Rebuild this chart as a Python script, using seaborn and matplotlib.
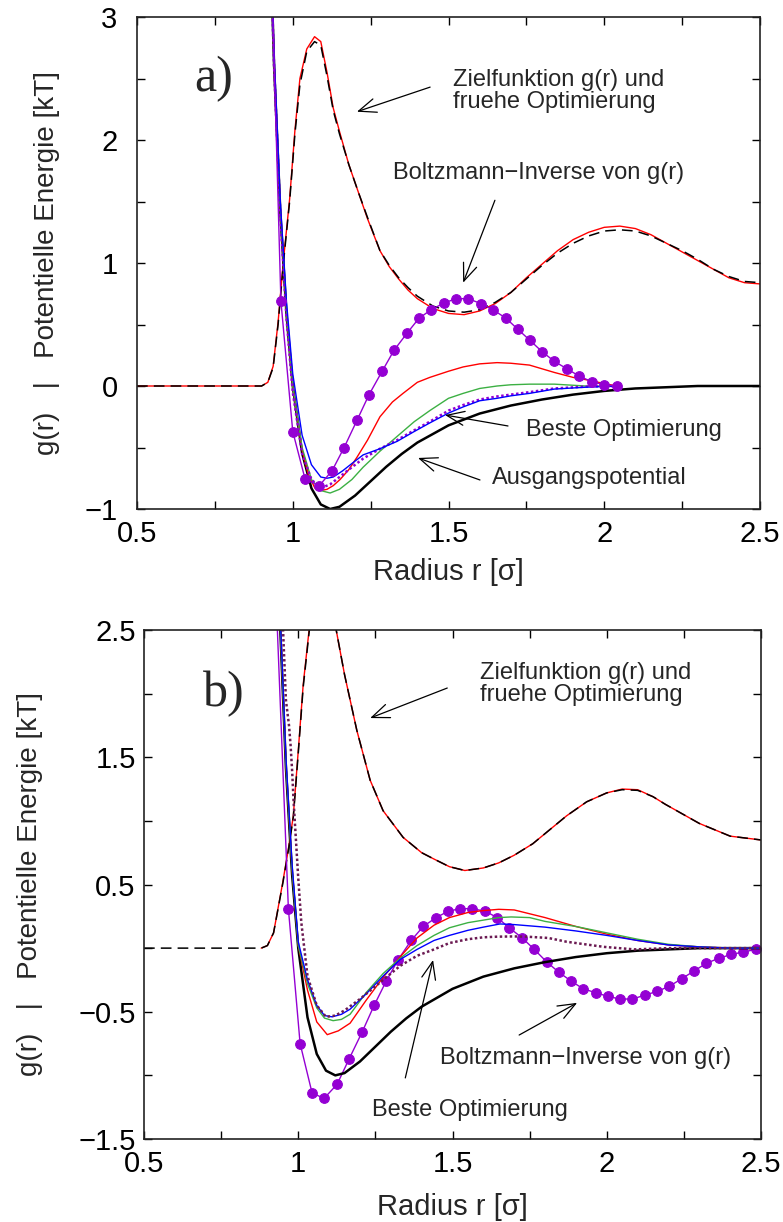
import numpy as np
import seaborn as sns
import matplotlib.pyplot as plt

# ---------------- data ----------------
# panel a: target g(r) (black dashed) and early optimisation g(r) (red)
r_g_a = [0.5, 0.9, 0.92, 0.937, 0.953, 0.97, 0.99, 1.007, 1.023, 1.045, 1.07, 1.09, 1.11, 1.13,
         1.15, 1.18, 1.21, 1.24, 1.28, 1.31, 1.34, 1.37, 1.4, 1.45, 1.5, 1.55, 1.6, 1.65, 1.7,
         1.75, 1.8, 1.85, 1.9, 1.95, 2.0, 2.05, 2.1, 2.15, 2.2, 2.25, 2.3, 2.35, 2.4, 2.45, 2.5]
g_target_a = [0, 0, 0.03, 0.15, 0.5, 1.0, 1.5, 2.05, 2.45, 2.72, 2.8, 2.77, 2.52, 2.24,
              2.05, 1.8, 1.58, 1.37, 1.1, 0.98, 0.88, 0.8, 0.73, 0.65, 0.61, 0.6, 0.62, 0.68, 0.76,
              0.87, 0.98, 1.08, 1.16, 1.22, 1.26, 1.27, 1.26, 1.22, 1.16, 1.1, 1.03, 0.95, 0.89, 0.85, 0.84]
g_early_a = [0, 0, 0.03, 0.16, 0.52, 1.02, 1.52, 2.08, 2.5, 2.74, 2.84, 2.8, 2.55, 2.26,
             2.07, 1.8, 1.58, 1.36, 1.1, 0.97, 0.87, 0.78, 0.71, 0.63, 0.59, 0.58, 0.61, 0.67, 0.76,
             0.88, 0.99, 1.1, 1.19, 1.25, 1.29, 1.3, 1.28, 1.23, 1.16, 1.09, 1.02, 0.95, 0.88, 0.84, 0.83]

# starting potential (Lennard-Jones like), same in both panels
r_lj = [0.92, 0.94, 0.96, 0.98, 1.0, 1.03, 1.06, 1.09, 1.12, 1.15, 1.2, 1.25, 1.3, 1.35, 1.4,
        1.5, 1.6, 1.7, 1.8, 1.9, 2.0, 2.1, 2.2, 2.3, 2.4, 2.5]
v_lj = [4.3, 2.61, 1.42, 0.58, 0.0, -0.544, -0.832, -0.963, -1.0, -0.982, -0.891, -0.774, -0.657,
        -0.552, -0.46, -0.32, -0.224, -0.159, -0.11, -0.07, -0.04, -0.02, -0.01, 0.0, 0.0, 0.0]

# panel a: optimisation iterations
r_red_a = [0.92, 0.94, 0.96, 0.98, 1.0, 1.03, 1.05, 1.071, 1.09, 1.11, 1.13, 1.152, 1.18, 1.206,
           1.24, 1.28, 1.32, 1.354, 1.4, 1.44, 1.5, 1.547, 1.6, 1.656, 1.7, 1.76, 1.8, 1.84, 1.9,
           1.944, 2.0, 2.04]
v_red_a = [4.3, 2.65, 1.45, 0.6, 0.0, -0.52, -0.72, -0.83, -0.85, -0.84, -0.81, -0.76, -0.68, -0.58,
           -0.44, -0.25, -0.13, -0.06, 0.03, 0.07, 0.12, 0.155, 0.18, 0.19, 0.185, 0.17, 0.14, 0.11,
           0.07, 0.05, 0.02, 0.0]
r_green_a = [0.92, 0.94, 0.96, 0.98, 1.0, 1.03, 1.06, 1.09, 1.12, 1.15, 1.19, 1.226, 1.28, 1.335,
             1.39, 1.44, 1.5, 1.547, 1.6, 1.656, 1.7, 1.76, 1.84, 1.94, 2.04]
v_green_a = [4.3, 2.62, 1.44, 0.6, 0.0, -0.5, -0.76, -0.85, -0.87, -0.84, -0.76, -0.66, -0.53, -0.41,
             -0.29, -0.2, -0.1, -0.06, -0.02, 0.0, 0.01, 0.015, 0.015, 0.0, 0.0]
r_blue_a = [0.92, 0.94, 0.96, 0.98, 1.0, 1.03, 1.06, 1.09, 1.11, 1.13, 1.16, 1.19, 1.226, 1.28,
            1.335, 1.39, 1.44, 1.5, 1.547, 1.6, 1.656, 1.7, 1.76, 1.84, 1.94, 2.04]
v_blue_a = [4.4, 2.7, 1.5, 0.68, 0.1, -0.4, -0.64, -0.74, -0.75, -0.74, -0.69, -0.63, -0.56, -0.51,
            -0.45, -0.37, -0.3, -0.22, -0.17, -0.12, -0.1, -0.08, -0.06, -0.025, -0.01, 0.0]
r_dot_a = [0.92, 0.94, 0.96, 0.98, 1.0, 1.03, 1.06, 1.08, 1.1, 1.12, 1.15, 1.19, 1.226, 1.28, 1.335,
           1.39, 1.44, 1.5, 1.547, 1.6, 1.656, 1.7, 1.76, 1.84, 1.94, 2.04]
v_dot_a = [4.3, 2.6, 1.4, 0.55, -0.05, -0.55, -0.76, -0.81, -0.82, -0.8, -0.74, -0.66, -0.59, -0.51,
           -0.44, -0.36, -0.29, -0.2, -0.155, -0.11, -0.085, -0.07, -0.05, -0.02, -0.005, 0.0]

# panel a: Boltzmann inverse of g(r) (first point only starts the line)
r_boltz_a = [0.925, 0.962, 1.0, 1.04, 1.085, 1.126, 1.165, 1.206, 1.245, 1.287, 1.325, 1.367, 1.405,
             1.444, 1.486, 1.524, 1.563, 1.604, 1.643, 1.685, 1.723, 1.762, 1.80, 1.84, 1.88, 1.92,
             1.96, 2.0, 2.04]
v_boltz_a = [4.0, 0.69, -0.37, -0.76, -0.81, -0.69, -0.5, -0.28, -0.07, 0.12, 0.29, 0.43, 0.55,
             0.62, 0.675, 0.71, 0.71, 0.67, 0.62, 0.55, 0.46, 0.37, 0.28, 0.2, 0.14, 0.08, 0.035,
             0.01, 0.0]

# panel b: target g(r) and early optimisation
r_g_b = [0.5, 0.88, 0.9, 0.92, 0.95, 0.968, 0.984, 1.0, 1.016, 1.036, 1.06, 1.08, 1.1, 1.123, 1.15,
         1.19, 1.233, 1.275, 1.34, 1.4, 1.44, 1.49, 1.54, 1.6, 1.65, 1.7, 1.76, 1.81, 1.87, 1.935,
         2.0, 2.05, 2.1, 2.15, 2.19, 2.3, 2.4, 2.5]
g_target_b = [0, 0, 0.02, 0.12, 0.51, 0.77, 1.03, 1.53, 2.05, 2.5, 2.85, 2.95, 2.85, 2.5, 2.15,
              1.71, 1.32, 1.08, 0.87, 0.75, 0.7, 0.64, 0.61, 0.63, 0.67, 0.73, 0.82, 0.92, 1.04, 1.15,
              1.22, 1.245, 1.24, 1.19, 1.13, 0.98, 0.88, 0.85]
r_early_b = r_g_b[1:]
g_early_b = [0, 0.02, 0.12, 0.52, 0.78, 1.04, 1.55, 2.07, 2.52, 2.87, 2.97, 2.86, 2.5, 2.15,
             1.71, 1.32, 1.08, 0.87, 0.75, 0.7, 0.64, 0.61, 0.63, 0.67, 0.73, 0.82, 0.92, 1.04, 1.15,
             1.22, 1.25, 1.245, 1.19, 1.13, 0.98, 0.88, 0.85]

# panel b: optimisation iterations
r_red_b = [0.92, 0.94, 0.96, 0.98, 1.0, 1.03, 1.06, 1.094, 1.13, 1.168, 1.22, 1.275, 1.33, 1.385,
           1.44, 1.49, 1.55, 1.6, 1.65, 1.7, 1.8, 1.9, 2.0, 2.1, 2.2, 2.3, 2.4, 2.5]
v_red_b = [4.3, 2.65, 1.45, 0.62, 0.02, -0.33, -0.58, -0.68, -0.65, -0.59, -0.41, -0.23, -0.07,
           0.08, 0.18, 0.24, 0.28, 0.295, 0.305, 0.3, 0.24, 0.17, 0.11, 0.06, 0.025, 0.01, 0.0, 0.0]
r_green_b = [0.92, 0.94, 0.96, 0.98, 1.0, 1.03, 1.06, 1.085, 1.113, 1.14, 1.168, 1.22, 1.275, 1.33,
             1.385, 1.44, 1.49, 1.55, 1.6, 1.65, 1.69, 1.75, 1.8, 1.9, 2.0, 2.1, 2.2, 2.3, 2.4, 2.5]
v_green_b = [4.3, 2.65, 1.45, 0.62, 0.02, -0.28, -0.47, -0.55, -0.57, -0.56, -0.52, -0.35, -0.2,
             -0.08, 0.02, 0.1, 0.16, 0.2, 0.22, 0.24, 0.245, 0.24, 0.21, 0.17, 0.12, 0.07, 0.03, 0.01,
             0.0, 0.0]
r_blue_b = [0.92, 0.94, 0.96, 0.98, 1.0, 1.03, 1.06, 1.085, 1.11, 1.14, 1.168, 1.22, 1.275, 1.33,
            1.385, 1.44, 1.49, 1.55, 1.6, 1.654, 1.7, 1.8, 1.9, 2.0, 2.1, 2.2, 2.3, 2.4, 2.5]
v_blue_b = [4.4, 2.7, 1.5, 0.66, 0.05, -0.25, -0.45, -0.53, -0.54, -0.52, -0.48, -0.36, -0.22,
            -0.09, -0.01, 0.06, 0.1, 0.14, 0.165, 0.19, 0.185, 0.165, 0.135, 0.1, 0.06, 0.025, 0.01,
            0.0, 0.0]
r_dot_b = [0.944, 0.96, 0.965, 0.97, 0.975, 0.98, 0.985, 0.99, 1.0, 1.01, 1.03, 1.06, 1.09, 1.12,
           1.15, 1.2, 1.25, 1.3, 1.33, 1.385, 1.44, 1.49, 1.55, 1.6, 1.645, 1.7, 1.74, 1.81, 1.87,
           1.93, 1.99, 2.09, 2.2, 2.3, 2.4, 2.5]
v_dot_b = [2.9, 1.95, 1.85, 1.75, 1.6, 1.4, 1.15, 0.95, 0.55, 0.2, -0.22, -0.45, -0.54, -0.53,
           -0.49, -0.4, -0.3, -0.2, -0.14, -0.06, -0.01, 0.04, 0.07, 0.085, 0.09, 0.092, 0.09, 0.08,
           0.05, 0.03, 0.01, -0.01, 0.0, 0.0, 0.0, 0.0]

# panel b: Boltzmann inverse of g(r)
r_boltz_b = [0.925, 0.968, 1.006, 1.045, 1.084, 1.126, 1.165, 1.207, 1.246, 1.285, 1.324, 1.366,
             1.405, 1.447, 1.486, 1.525, 1.564, 1.606, 1.645, 1.684, 1.726, 1.765, 1.806, 1.845,
             1.885, 1.924, 1.964, 2.005, 2.043, 2.083, 2.123, 2.163, 2.203, 2.243, 2.283, 2.322,
             2.363, 2.403, 2.443, 2.484]
v_boltz_b = [2.95, 0.31, -0.75, -1.14, -1.18, -1.07, -0.87, -0.66, -0.45, -0.26, -0.09, 0.06, 0.17,
             0.24, 0.29, 0.31, 0.31, 0.29, 0.24, 0.16, 0.08, -0.01, -0.11, -0.19, -0.26, -0.32,
             -0.35, -0.38, -0.40, -0.40, -0.37, -0.34, -0.30, -0.24, -0.18, -0.12, -0.08, -0.05,
             -0.03, -0.01]

x_ticks = [0.5, 0.75, 1.0, 1.25, 1.5, 1.75, 2.0, 2.25, 2.5]
x_labels = ['0.5', '', '1', '', '1.5', '', '2', '', '2.5']
y_ticks_a = [-1, -0.5, 0, 0.5, 1, 1.5, 2, 2.5, 3]
y_labels_a = ['\u22121', '', '0', '', '1', '', '2', '', '3']
y_ticks_b = [-1.5, -1, -0.5, 0, 0.5, 1, 1.5, 2, 2.5]
y_labels_b = ['\u22121.5', '', '\u22120.5', '', '0.5', '', '1.5', '', '2.5']

# ---------------- style ----------------
sns.set_style('ticks')
plt.rcParams['font.family'] = ['Liberation Sans', 'DejaVu Sans']

RED = '#ff0000'
GREEN = '#3cb043'
BLUE = '#0000ff'
VIOLET = '#9400d3'
PLUM = '#6b1a52'

fig = plt.figure(figsize=(7.83, 12.22), dpi=100)
W, H = 783, 1222
ax_a = fig.add_axes([137 / W, 1 - 509 / H, (760 - 137) / W, (509 - 17) / H])
ax_b = fig.add_axes([144 / W, 1 - 1139 / H, (761 - 144) / W, (1139 - 630) / H])


def line(ax, x, y, **kw):
    sns.lineplot(x=x, y=y, ax=ax, sort=False, estimator=None, legend=False, **kw)


def arrow(ax, tail, head):
    ax.annotate('', xy=head, xytext=tail,
                arrowprops=dict(arrowstyle='->,head_length=0.7,head_width=0.28',
                                lw=0.9, color='black', shrinkA=0, shrinkB=0,
                                mutation_scale=18))


dash = (0, (7, 4))

# ---- panel a ----
line(ax_a, r_g_a, g_early_a, color=RED, lw=1.0)
line(ax_a, r_g_a, g_target_a, color='black', lw=1.1, linestyle=dash)
line(ax_a, r_lj, v_lj, color='black', lw=1.8)
line(ax_a, r_red_a, v_red_a, color=RED, lw=1.0)
line(ax_a, r_green_a, v_green_a, color=GREEN, lw=1.0)
line(ax_a, r_dot_a, v_dot_a, color=VIOLET, lw=1.8, linestyle=(0, (1, 1)))
line(ax_a, r_blue_a, v_blue_a, color=BLUE, lw=1.0)
line(ax_a, r_boltz_a, v_boltz_a, color=VIOLET, lw=1.0, marker='o', markersize=7,
     markeredgecolor=VIOLET, markerfacecolor=VIOLET, markevery=list(range(1, len(r_boltz_a))))

ax_a.set_xlim(0.5, 2.5)
ax_a.set_ylim(-1, 3)
ax_a.set_yticks(y_ticks_a)
ax_a.set_yticklabels(y_labels_a)

ax_a.text(0.745, 2.5, 'a)', fontsize=36, family='Liberation Serif', ha='center', va='center')
ax_a.text(1.514, 2.40, 'Zielfunktion g(r) und\nfruehe Optimierung', fontsize=17,
          ha='left', va='center', linespacing=1.0)
arrow(ax_a, (1.441, 2.43), (1.206, 2.23))
ax_a.text(1.322, 1.73, 'Boltzmann\u2212Inverse von g(r)', fontsize=17, ha='left', va='center')
arrow(ax_a, (1.649, 1.51), (1.547, 0.84))
ax_a.text(1.749, -0.36, 'Beste Optimierung', fontsize=17, ha='left', va='center')
arrow(ax_a, (1.691, -0.325), (1.489, -0.236))
ax_a.text(1.64, -0.75, 'Ausgangspotential', fontsize=17, ha='left', va='center')
arrow(ax_a, (1.601, -0.764), (1.402, -0.585))

# ---- panel b ----
line(ax_b, r_early_b, g_early_b, color=RED, lw=1.0)
line(ax_b, r_g_b, g_target_b, color='black', lw=1.1, linestyle=dash)
line(ax_b, r_boltz_b, v_boltz_b, color=VIOLET, lw=1.0, marker='o', markersize=7,
     markeredgecolor=VIOLET, markerfacecolor=VIOLET, markevery=list(range(1, len(r_boltz_b))))
line(ax_b, r_lj, v_lj, color='black', lw=1.8)
line(ax_b, r_red_b, v_red_b, color=RED, lw=1.0)
line(ax_b, r_green_b, v_green_b, color=GREEN, lw=1.0)
line(ax_b, r_blue_b, v_blue_b, color=BLUE, lw=1.0)
line(ax_b, r_dot_b, v_dot_b, color=PLUM, lw=1.8, linestyle=(0, (1, 1)))

ax_b.set_xlim(0.5, 2.5)
ax_b.set_ylim(-1.5, 2.5)
ax_b.set_yticks(y_ticks_b)
ax_b.set_yticklabels(y_labels_b)

ax_b.text(0.76, 2.0, 'b)', fontsize=36, family='Liberation Serif', ha='center', va='center')
ax_b.text(1.59, 2.076, 'Zielfunktion g(r) und\nfruehe Optimierung', fontsize=17,
          ha='left', va='center', linespacing=1.0)
arrow(ax_b, (1.483, 2.044), (1.233, 1.808))
ax_b.text(1.46, -0.86, 'Boltzmann\u2212Inverse von g(r)', fontsize=17, ha='left', va='center')
arrow(ax_b, (1.716, -0.683), (1.904, -0.43))
ax_b.text(1.24, -1.27, 'Beste Optimierung', fontsize=17, ha='left', va='center')
arrow(ax_b, (1.347, -1.02), (1.437, -0.093))

# ---- shared axis cosmetics ----
for ax, ylab_x, pad_y in [(ax_a, -0.124, 14), (ax_b, -0.164, 6)]:
    ax.set_xticks(x_ticks)
    ax.set_xticklabels(x_labels)
    ax.tick_params(direction='in', length=6, width=1, top=True, right=True,
                   labelsize=21, colors='black')
    ax.tick_params(axis='y', pad=pad_y)
    ax.tick_params(axis='x', pad=8)
    for s in ax.spines.values():
        s.set_linewidth(1.2)
        s.set_color('#222222')
    ax.set_xlabel('Radius r [\u03c3]', fontsize=21)
    ax.set_ylabel('g(r)   |   Potentielle Energie [kT]', fontsize=20)
    ax.yaxis.set_label_coords(ylab_x, 0.5)

ax_a.xaxis.set_label_coords(0.5, -0.1)
ax_b.xaxis.set_label_coords(0.5, -0.106)

fig.savefig('out.png', dpi=100)
